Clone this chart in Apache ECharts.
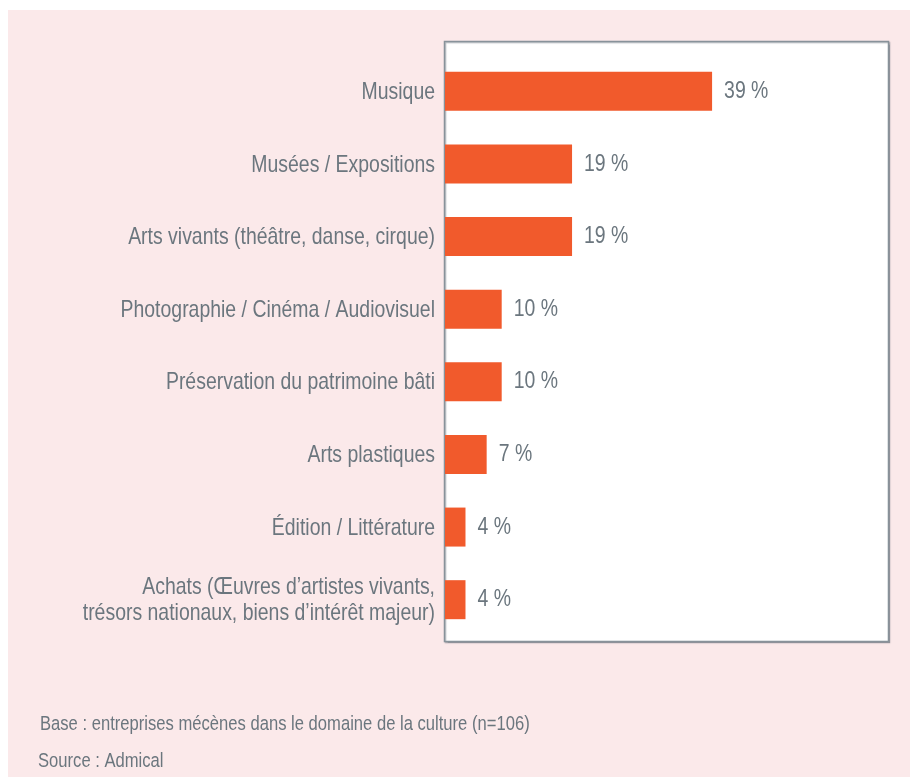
<!DOCTYPE html>
<html>
<head>
<meta charset="utf-8">
<script src="https://cdn.jsdelivr.net/npm/echarts@6/dist/echarts.min.js"></script>
<style>
html, body { margin: 0; padding: 0; background: #ffffff; }
#main { width: 910px; height: 777px; }
</style>
</head>
<body>
<div id="main"></div>
<script>
// domaines culturels soutenus (de haut en bas)
var domaines = [
  "Musique",
  "Musées / Expositions",
  "Arts vivants (théâtre, danse, cirque)",
  "Photographie / Cinéma / Audiovisuel",
  "Préservation du patrimoine bâti",
  "Arts plastiques",
  "Édition / Littérature",
  "Achats (Œuvres d\u2019artistes vivants,\ntrésors nationaux, biens d\u2019intérêt majeur)"
];
// longueurs des barres (en %)
var valeurs = [39.1, 18.6, 18.6, 8.3, 8.3, 6.1, 3.0, 3.0];
// pourcentages affichés
var etiquettes = ["39 %", "19 %", "19 %", "10 %", "10 %", "7 %", "4 %", "4 %"];

// police étroite : Liberation Sans resserrée horizontalement
var police = "'Liberation Sans', Arial, sans-serif";
var serre = 0.81;
var gris = "#6b767e";

var myChart = echarts.init(document.getElementById("main"));

function texteCategorie(params, api) {
  var p = api.coord([0, api.value(1)]);
  return {
    type: "text",
    x: p[0] - 10,
    y: p[1] + 1,
    scaleX: serre,
    silent: true,
    style: {
      text: domaines[params.dataIndex],
      font: "24px " + police,
      fill: gris,
      align: "right",
      verticalAlign: "middle",
      lineHeight: 26
    }
  };
}

function texteValeur(params, api) {
  var p = api.coord([api.value(0), api.value(1)]);
  return {
    type: "text",
    x: p[0] + 12,
    y: p[1],
    scaleX: serre,
    silent: true,
    style: {
      text: etiquettes[params.dataIndex],
      font: "24px " + police,
      fill: gris,
      align: "left",
      verticalAlign: "middle"
    }
  };
}

var option = {
  backgroundColor: "#ffffff",
  animation: false,
  graphic: [
    {
      type: "rect", z: -10, silent: true,
      shape: { x: 8, y: 10, width: 910, height: 780 },
      style: { fill: "#fbe9ea" }
    },
    {
      type: "rect", z: -5, silent: true,
      shape: { x: 444.5, y: 41.5, width: 444, height: 600 },
      style: { fill: "#ffffff", stroke: "#88929a", lineWidth: 1.5,
        shadowColor: "rgba(90,100,110,0.45)", shadowOffsetX: 1, shadowOffsetY: 1, shadowBlur: 1 }
    },
    {
      type: "text", x: 40, y: 724, scaleX: serre,
      style: { text: "Base : entreprises mécènes dans le domaine de la culture (n=106)",
        font: "20.5px " + police, fill: gris, verticalAlign: "middle" }
    },
    {
      type: "text", x: 38, y: 761, scaleX: serre,
      style: { text: "Source : Admical", font: "20.5px " + police, fill: gris, verticalAlign: "middle" }
    }
  ],
  grid: { left: 445, top: 55, width: 444, height: 581, outerBoundsMode: "none" },
  xAxis: {
    type: "value",
    min: 0,
    max: 65,
    show: false
  },
  yAxis: {
    type: "category",
    inverse: true,
    data: domaines,
    axisLine: { show: false },
    axisTick: { show: false },
    axisLabel: { show: false }
  },
  series: [
    {
      type: "bar",
      data: valeurs,
      barWidth: 39,
      itemStyle: { color: "#f15a2c" }
    },
    {
      type: "custom",
      renderItem: texteCategorie,
      data: domaines.map(function (d, i) { return [0, i]; })
    },
    {
      type: "custom",
      renderItem: texteValeur,
      data: valeurs.map(function (v, i) { return [v, i]; })
    }
  ]
};
myChart.setOption(option);
</script>
</body>
</html>
